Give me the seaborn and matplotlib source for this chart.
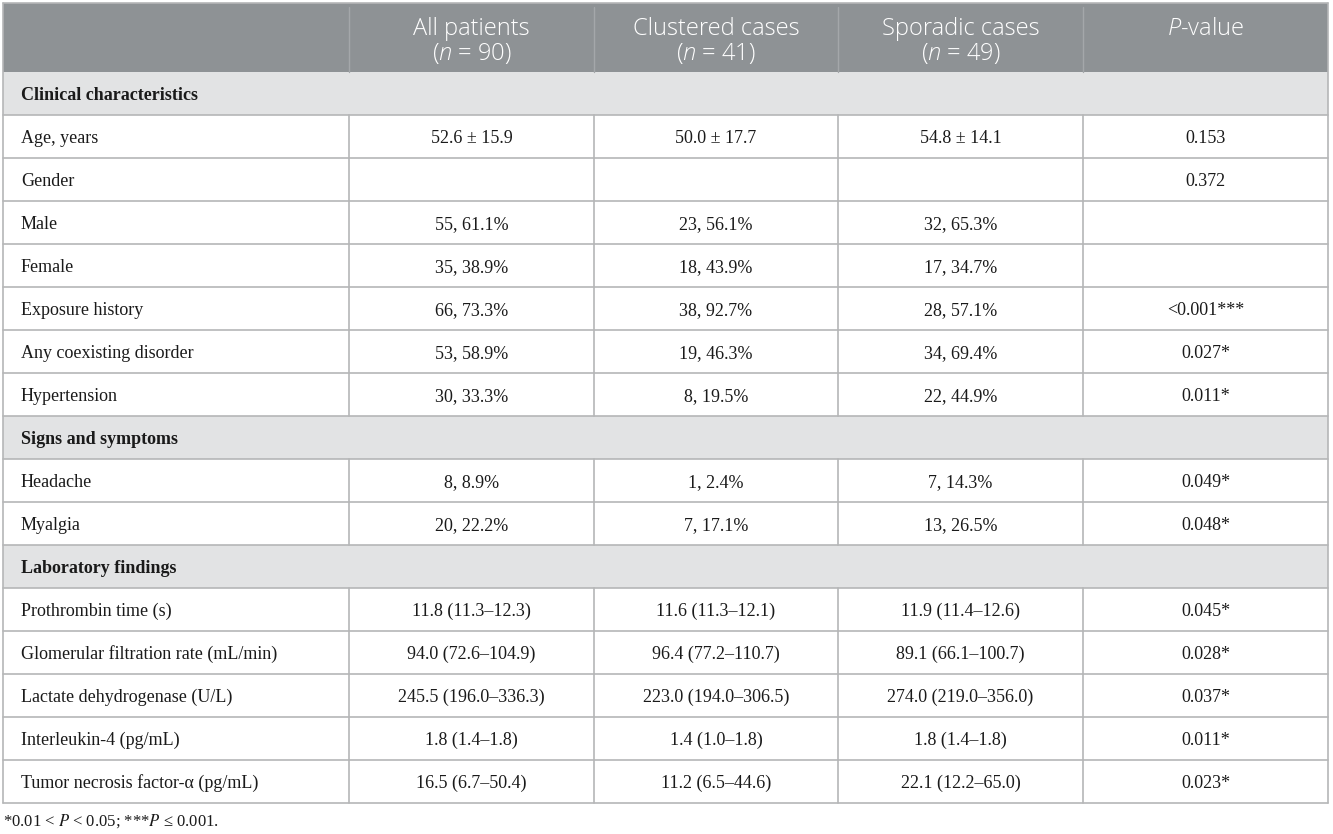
import matplotlib
matplotlib.use("Agg")
import matplotlib.pyplot as plt
import seaborn as sns
import pandas as pd

# ---- table content ----
group_names = ["All patients", "Clustered cases", "Sporadic cases"]
group_sizes = [90, 41, 49]

row_labels = [
    "Clinical characteristics",
    "Age, years", "Gender", "Male", "Female", "Exposure history",
    "Any coexisting disorder", "Hypertension",
    "Signs and symptoms",
    "Headache", "Myalgia",
    "Laboratory findings",
    "Prothrombin time (s)", "Glomerular filtration rate (mL/min)",
    "Lactate dehydrogenase (U/L)", "Interleukin-4 (pg/mL)",
    "Tumor necrosis factor-\u03b1 (pg/mL)",
]
is_section = [True, False, False, False, False, False, False, False,
              True, False, False,
              True, False, False, False, False, False]

all_patients = ["", "52.6 \u00b1 15.9", "", "55, 61.1%", "35, 38.9%", "66, 73.3%",
                "53, 58.9%", "30, 33.3%", "", "8, 8.9%", "20, 22.2%", "",
                "11.8 (11.3\u201312.3)", "94.0 (72.6\u2013104.9)",
                "245.5 (196.0\u2013336.3)", "1.8 (1.4\u20131.8)",
                "16.5 (6.7\u201350.4)"]
clustered = ["", "50.0 \u00b1 17.7", "", "23, 56.1%", "18, 43.9%", "38, 92.7%",
             "19, 46.3%", "8, 19.5%", "", "1, 2.4%", "7, 17.1%", "",
             "11.6 (11.3\u201312.1)", "96.4 (77.2\u2013110.7)",
             "223.0 (194.0\u2013306.5)", "1.4 (1.0\u20131.8)",
             "11.2 (6.5\u201344.6)"]
sporadic = ["", "54.8 \u00b1 14.1", "", "32, 65.3%", "17, 34.7%", "28, 57.1%",
            "34, 69.4%", "22, 44.9%", "", "7, 14.3%", "13, 26.5%", "",
            "11.9 (11.4\u201312.6)", "89.1 (66.1\u2013100.7)",
            "274.0 (219.0\u2013356.0)", "1.8 (1.4\u20131.8)",
            "22.1 (12.2\u201365.0)"]
p_values = ["", "0.153", "0.372", "", "", "<0.001***", "0.027*", "0.011*", "",
            "0.049*", "0.048*", "", "0.045*", "0.028*", "0.037*", "0.011*",
            "0.023*"]

footnote = "*0.01 < $P$ < 0.05; ***$P$ \u2264 0.001."

df = pd.DataFrame({"label": row_labels, "section": is_section,
                   "all": all_patients, "clustered": clustered,
                   "sporadic": sporadic, "p": p_values})

# ---- styling / layout ----
sns.set_theme(style="white")
plt.rcParams["font.family"] = ["Liberation Serif", "DejaVu Serif"]
plt.rcParams["mathtext.fontset"] = "custom"
plt.rcParams["mathtext.rm"] = "Open Sans:light"
plt.rcParams["mathtext.it"] = "Open Sans:italic:light"

header_bg = "#8e9295"
section_bg = "#e2e3e4"
line_col = "#b5b6b7"
header_line = "#a4a7aa"
text_col = "#1a1a1a"
body_fs = 13
head_fs = 17

col_edges = [3, 349, 594, 838, 1083, 1328]
top, header_bottom, bottom = 3, 72, 803
pitch = (bottom - header_bottom) / len(df)

fig = plt.figure(figsize=(13.33, 8.34), dpi=100)
ax = fig.add_axes([0, 0, 1, 1])
ax.set_xlim(0, 1333)
ax.set_ylim(834, 0)
ax.axis("off")

# header
ax.fill_between([col_edges[0], col_edges[-1]], top, header_bottom,
                color=header_bg, lw=0)
for x in col_edges[1:-1]:
    ax.plot([x, x], [top + 4, header_bottom], color=header_line, lw=1)
head_kw = dict(ha="center", va="center", color="white", fontsize=head_fs,
               family="Open Sans", fontweight="light",
               math_fontfamily="custom")
for i, (name, n) in enumerate(zip(group_names, group_sizes)):
    cx = (col_edges[i + 1] + col_edges[i + 2]) / 2
    ax.text(cx, 29, name, **head_kw)
    ax.text(cx, 53, f"($n$ = {n})", **head_kw)
ax.text((col_edges[4] + col_edges[5]) / 2, 29, "$P$-value", **head_kw)

# body rows
value_cols = ["all", "clustered", "sporadic", "p"]
for i, row in df.iterrows():
    y0 = header_bottom + i * pitch
    y1 = y0 + pitch
    yc = (y0 + y1) / 2 + 2
    if row["section"]:
        ax.fill_between([col_edges[0], col_edges[-1]], y0, y1,
                        color=section_bg, lw=0)
        ax.text(col_edges[0] + 18, yc, row["label"], ha="left", va="center",
                fontsize=body_fs, fontweight="bold", color=text_col)
    else:
        for x in col_edges[1:-1]:
            ax.plot([x, x], [y0, y1], color=line_col, lw=1.2)
        ax.text(col_edges[0] + 18, yc, row["label"], ha="left", va="center",
                fontsize=body_fs, color=text_col)
        for j, c in enumerate(value_cols):
            cx = (col_edges[j + 1] + col_edges[j + 2]) / 2
            ax.text(cx, yc, row[c], ha="center", va="center",
                    fontsize=body_fs, color=text_col)
    ax.plot([col_edges[0], col_edges[-1]], [y1, y1], color=line_col, lw=1.2)

# outer border
ax.plot([col_edges[0], col_edges[0]], [top, bottom], color=line_col, lw=1.2)
ax.plot([col_edges[-1], col_edges[-1]], [top, bottom], color=line_col, lw=1.2)
ax.plot([col_edges[0], col_edges[-1]], [top, top], color=line_col, lw=1.2)

ax.text(col_edges[0], 821, footnote, ha="left", va="center", fontsize=12,
        color=text_col, math_fontfamily="stix")

fig.savefig("out.png", dpi=100)
